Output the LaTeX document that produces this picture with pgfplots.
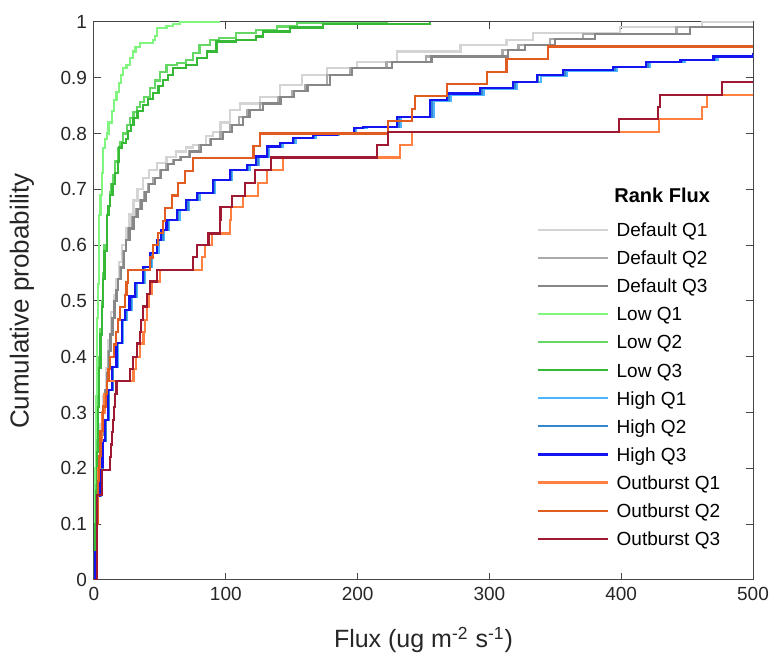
\documentclass[border=0pt]{standalone}
\usepackage{fontspec}
\setmainfont{Liberation Sans}
\usepackage{pgfplots}
\pgfplotsset{compat=1.18}
\definecolor{dq1}{RGB}{212,212,212}
\definecolor{dq2}{RGB}{170,170,170}
\definecolor{dq3}{RGB}{135,135,135}
\definecolor{lq1}{RGB}{128,245,128}
\definecolor{lq2}{RGB}{100,215,100}
\definecolor{lq3}{RGB}{55,185,55}
\definecolor{hq1}{RGB}{77,180,255}
\definecolor{hq2}{RGB}{50,135,205}
\definecolor{hq3}{RGB}{20,20,240}
\definecolor{oq1}{RGB}{255,128,64}
\definecolor{oq2}{RGB}{225,92,32}
\definecolor{oq3}{RGB}{160,25,50}
\definecolor{axgray}{RGB}{70,70,70}
\definecolor{txtgray}{RGB}{38,38,38}
\begin{document}
\begin{tikzpicture}
\begin{axis}[
  scale only axis, width=329.5pt, height=279pt,
  xmin=0, xmax=500, ymin=0, ymax=1,
  xtick={0,100,200,300,400,500},
  ytick={0,0.1,0.2,0.3,0.4,0.5,0.6,0.7,0.8,0.9,1},
  yticklabels={0,0.1,0.2,0.3,0.4,0.5,0.6,0.7,0.8,0.9,1},
  /pgf/number format/assume math mode=true,
  tick align=inside, major tick length=3.5pt,
  axis line style={draw=axgray, line width=0.5pt},
  every tick/.style={axgray, line width=0.5pt},
  ticklabel style={font=\fontsize{9.5}{11}\selectfont, text=txtgray},
  xlabel={Flux (ug m\textsuperscript{-2} s\textsuperscript{-1})},
  ylabel={Cumulative probability},
  every axis x label/.style={at={(rel axis cs:0.5,0)}, yshift=-30pt, anchor=center, font=\fontsize{12.5}{14}\selectfont, text=txtgray},
  every axis y label/.style={at={(rel axis cs:0,0.5)}, xshift=-36pt, rotate=90, anchor=center, font=\fontsize{13}{15}\selectfont, text=txtgray},
  legend cell align=left,
  legend style={draw=none, fill=none, at={(axis cs:335.4,0.6466)}, anchor=north west,
    inner sep=0pt, row sep=0pt, column sep=4pt,
    font=\fontsize{9.5}{11}\selectfont,
    nodes={inner sep=0pt, text height=8.5pt, text depth=5.55pt}},
  legend image code/.code={\draw[#1, line width=1.1pt] (0pt,2pt) -- (35pt,2pt);},
  every axis plot/.append style={line width=1.1pt, no marks},
]
% Default Q1
\addplot[dq1, const plot] coordinates {(0,0)(0.5,0.05)(1,0.1)(2,0.16)(3,0.21)(5,0.28)(7,0.33)(9,0.38)(11,0.43)(13,0.48)(15,0.51)(17,0.54)(19,0.57)(21,0.60)(24,0.63)(27,0.655)(30,0.68)(33,0.70)(37,0.72)(42,0.735)(48,0.748)(55,0.758)(62,0.768)(70,0.775)(75,0.78)(85,0.795)(90,0.803)(96,0.82)(103,0.842)(111,0.854)(126,0.866)(141,0.887)(157.6,0.905)(176.6,0.917)(199.3,0.929)(230,0.947)(278,0.959)(313,0.968)(333,0.98)(399,0.991)(461,1)(500,1)};
\addlegendentry{Default Q1}
% Default Q2
\addplot[dq2, const plot] coordinates {(0,0)(0.5,0.05)(1,0.1)(2,0.15)(3,0.2)(5,0.26)(7,0.31)(8.5,0.34)(9.6,0.37)(11,0.41)(12,0.44)(13.5,0.47)(15,0.5)(16.5,0.52)(18,0.54)(20,0.56)(22,0.59)(24,0.61)(26,0.63)(29,0.65)(32,0.665)(35,0.68)(38,0.695)(41,0.71)(45,0.72)(50,0.735)(55,0.745)(60,0.752)(65,0.758)(72,0.768)(80,0.78)(88,0.79)(96,0.803)(103,0.815)(110,0.83)(115.8,0.842)(126,0.854)(139.8,0.866)(150,0.876)(160,0.887)(176.6,0.905)(194,0.917)(222,0.929)(252,0.938)(310,0.95)(322,0.959)(346,0.969)(371,0.978)(442,0.991)(500,0.991)};
\addlegendentry{Default Q2}
% Default Q3
\addplot[dq3, const plot] coordinates {(0,0)(0.5,0.05)(1,0.1)(2,0.15)(3,0.2)(5,0.26)(7,0.31)(8.5,0.34)(10,0.37)(11.5,0.41)(12.5,0.44)(14,0.47)(15.5,0.5)(17,0.52)(18.5,0.54)(20.5,0.56)(22.5,0.59)(24.5,0.61)(27,0.63)(30,0.65)(33,0.665)(36,0.68)(39,0.695)(42,0.71)(46,0.72)(51,0.735)(56,0.745)(61,0.752)(66,0.758)(73,0.768)(81,0.78)(89,0.79)(98,0.803)(105,0.815)(113,0.83)(118,0.842)(128,0.854)(141.5,0.866)(152,0.876)(162,0.887)(179,0.905)(196,0.917)(226,0.929)(256,0.938)(314,0.95)(327,0.959)(350,0.969)(380,0.978)(452,0.991)(500,0.991)};
\addlegendentry{Default Q3}
% Low Q1
\addplot[lq1, const plot] coordinates {(0,0)(0.3,0.05)(0.6,0.12)(1,0.2)(1.3,0.27)(1.6,0.33)(2,0.4)(2.5,0.47)(3,0.53)(3.5,0.59)(4,0.654)(5,0.69)(6,0.73)(7,0.774)(8.3,0.79)(9.6,0.80)(11,0.82)(13.4,0.84)(15,0.86)(17,0.875)(19,0.89)(20.5,0.905)(22,0.917)(24.7,0.923)(27.5,0.935)(29.6,0.947)(31.5,0.955)(35,0.962)(45,0.968)(46,0.975)(47.5,0.989)(55,0.993)(60,0.997)(65,1)(95.6,1)};
\addlegendentry{Low Q1}
% Low Q2
\addplot[lq2, const plot] coordinates {(0,0)(0.5,0.05)(1,0.1)(1.5,0.17)(2,0.25)(3,0.33)(4,0.4)(5,0.45)(6,0.5)(7,0.55)(8,0.6)(9.6,0.654)(11,0.67)(12,0.696)(13,0.71)(14.5,0.726)(16,0.75)(18,0.774)(20,0.785)(22,0.8)(25,0.815)(27.5,0.828)(30,0.839)(32.5,0.848)(35,0.857)(38,0.866)(42.5,0.882)(46,0.895)(50,0.911)(55,0.923)(63,0.926)(70,0.932)(75,0.945)(80,0.959)(88,0.968)(95,0.972)(108,0.98)(123,0.986)(139,0.992)(154,0.998)(222,1)};
\addlegendentry{Low Q2}
% Low Q3
\addplot[lq3, const plot] coordinates {(0,0)(0.5,0.05)(1,0.1)(1.5,0.16)(2,0.23)(3,0.31)(4,0.38)(5,0.44)(6,0.49)(7,0.54)(8,0.59)(9.6,0.654)(11,0.67)(12,0.69)(14,0.71)(16,0.73)(18,0.75)(19,0.775)(21,0.783)(24,0.79)(26,0.805)(28,0.815)(30,0.828)(33,0.84)(37,0.851)(41,0.862)(45,0.873)(49,0.885)(52.5,0.896)(56,0.905)(60,0.917)(70,0.923)(78,0.935)(85.5,0.947)(93,0.965)(108,0.968)(123,0.974)(128,0.983)(149,0.99)(174,0.997)(255,1)};
\addlegendentry{Low Q3}
% High Q1
\addplot[hq1, const plot] coordinates {(0,0)(1.2,0.05)(2.2,0.1)(3.3,0.15)(5,0.2)(7,0.25)(9,0.287)(11.5,0.34)(14.5,0.382)(18,0.425)(22,0.466)(25,0.484)(28.5,0.508)(32.5,0.532)(38.5,0.561)(44,0.586)(49,0.609)(53,0.627)(57,0.645)(65,0.663)(72,0.681)(80,0.693)(92,0.717)(105,0.735)(118,0.744)(125,0.759)(133,0.777)(143,0.783)(153,0.792)(168,0.797)(186,0.801)(199,0.81)(207,0.812)(233,0.83)(258,0.858)(271,0.87)(296,0.88)(321,0.892)(339,0.904)(359,0.913)(397,0.92)(422,0.928)(448,0.932)(473,0.938)(500,0.943)};
\addlegendentry{High Q1}
% High Q2
\addplot[hq2, const plot] coordinates {(0,0)(1.1,0.05)(2.1,0.1)(3.2,0.15)(4.8,0.2)(6.8,0.25)(8.7,0.287)(11,0.34)(14,0.382)(17.5,0.425)(21.5,0.466)(24,0.484)(27.7,0.508)(31.7,0.532)(37.7,0.561)(43,0.586)(48,0.609)(52,0.627)(56,0.645)(64,0.663)(71,0.681)(79,0.693)(91,0.717)(104,0.735)(117,0.744)(124,0.759)(132,0.777)(142,0.783)(152,0.792)(167,0.797)(185,0.801)(198,0.81)(205,0.812)(231,0.83)(256,0.86)(269,0.871)(294,0.881)(319,0.893)(337,0.905)(357,0.914)(395,0.92)(420,0.929)(446,0.932)(471,0.938)(500,0.944)};
\addlegendentry{High Q2}
% High Q3
\addplot[hq3, const plot] coordinates {(0,0)(1,0.05)(2,0.1)(3,0.15)(4.5,0.203)(6.5,0.25)(8.3,0.287)(10.6,0.34)(13.4,0.382)(17,0.425)(21,0.466)(23.5,0.484)(27,0.508)(31,0.532)(37,0.561)(42.5,0.586)(47.5,0.609)(51,0.627)(55,0.645)(63,0.663)(70,0.681)(78,0.693)(90,0.717)(103,0.735)(116,0.744)(123,0.759)(131,0.777)(141,0.783)(151,0.792)(166,0.797)(184,0.801)(197,0.81)(204,0.812)(230,0.83)(255,0.86)(268,0.872)(293,0.881)(318,0.893)(336,0.905)(356,0.914)(394,0.92)(419,0.929)(445,0.932)(470,0.938)(500,0.944)};
\addlegendentry{High Q3}
% Outburst Q1
\addplot[oq1, const plot] coordinates {(0,0)(2,0.1)(3,0.2)(4.5,0.25)(6,0.3)(8,0.333)(9.6,0.356)(30,0.378)(32,0.40)(35,0.424)(37.5,0.444)(38.5,0.466)(40,0.49)(42,0.512)(44,0.535)(50,0.556)(81.7,0.579)(84.2,0.60)(89.3,0.621)(103.2,0.645)(104,0.669)(113.3,0.688)(124.7,0.711)(131,0.735)(143.6,0.757)(232,0.78)(241,0.803)(428.9,0.826)(461,0.847)(464.8,0.869)(500,0.869)};
\addlegendentry{Outburst Q1}
% Outburst Q2
\addplot[oq2, const plot] coordinates {(0,0)(2,0.022)(2.5,0.1)(3,0.178)(4,0.222)(5,0.267)(7,0.311)(9,0.333)(10,0.356)(11,0.378)(12,0.40)(15,0.422)(16.5,0.444)(18.5,0.467)(20,0.489)(23.5,0.511)(24.7,0.533)(26,0.556)(42.5,0.578)(45,0.60)(48.8,0.622)(52.6,0.644)(53.9,0.667)(59,0.689)(64,0.711)(69,0.733)(75.4,0.756)(121,0.778)(126,0.80)(223,0.822)(241,0.844)(243.6,0.867)(267.6,0.889)(298,0.911)(313,0.933)(344.7,0.956)(500,0.956)};
\addlegendentry{Outburst Q2}
% Outburst Q3
\addplot[oq3, const plot] coordinates {(0,0)(2.5,0.152)(5.8,0.197)(12,0.221)(12.7,0.243)(13.4,0.265)(14.7,0.287)(15.4,0.31)(16,0.333)(17,0.356)(27.3,0.378)(29.8,0.40)(32.4,0.424)(34.9,0.444)(35.5,0.466)(37.4,0.49)(40,0.512)(42.5,0.535)(47.5,0.556)(75.4,0.579)(77.9,0.60)(86.8,0.621)(95.6,0.645)(96,0.669)(104.5,0.688)(114.6,0.711)(122,0.735)(134,0.757)(214.5,0.78)(223,0.803)(398.6,0.826)(427.7,0.847)(429.4,0.869)(476.7,0.892)(500,0.892)};
\addlegendentry{Outburst Q3}
\node[anchor=west, inner sep=0pt, font=\fontsize{10}{11}\selectfont\bfseries, text=black] at (axis cs:394.5,0.689) {Rank Flux};
\end{axis}
\pgfresetboundingbox
\path ([shift={(-47pt,-41pt)}]current axis.south west) rectangle ([shift={(11pt,11pt)}]current axis.north east);
\end{tikzpicture}
\end{document}
